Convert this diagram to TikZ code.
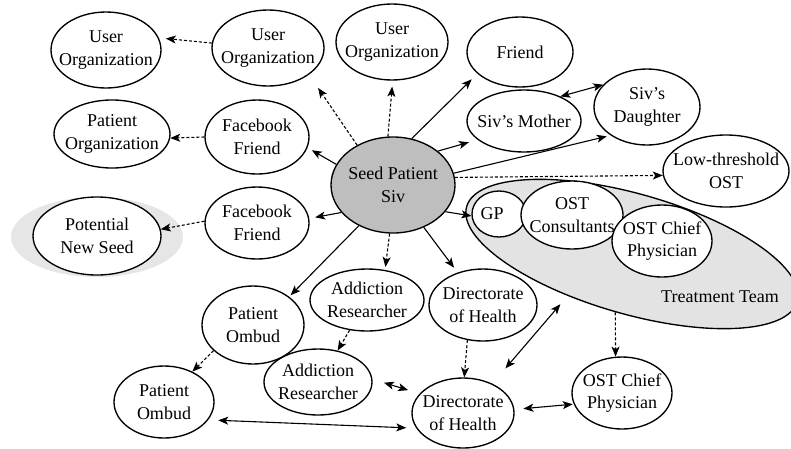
\documentclass[tikz,border=0pt]{standalone}
\usepackage{fontspec}
\setmainfont{Liberation Serif}
\usetikzlibrary{shapes.geometric,arrows.meta}
\definecolor{seedgrey}{HTML}{BEBEBE}
\definecolor{teamgrey}{HTML}{E3E3E3}
\definecolor{halogrey}{HTML}{E6E6E6}
\tikzset{
  ent/.style={ellipse, draw=black, line width=1.35pt, fill=white, inner sep=0pt},
  txt/.style={align=center, inner sep=0pt, font=\fontsize{18}{22.5}\selectfont},
  tip/.tip={Stealth[length=10pt,width=8pt,inset=2.5pt]},
  sarr/.style={line width=1.1pt, -tip},
  darr/.style={line width=1.1pt, dash pattern=on 3pt off 2pt, -tip},
  dbl/.style={line width=1.1pt, tip-tip},
}
\begin{document}
\begin{tikzpicture}[x=1pt,y=-1pt]
\useasboundingbox (0,0) rectangle (791,448);
% backgrounds
\node[ellipse, fill=halogrey, minimum width=172pt, minimum height=80pt, inner sep=0pt] (pnshalo) at (97,237) {};
\node[ellipse, draw=black, line width=1.35pt, fill=teamgrey, minimum width=344pt, minimum height=120pt, rotate=-16, inner sep=0pt] (tt) at (632,254) {};
\node[txt] (ttl) at (720,297) {Treatment Team};
% nodes
\node[ent, minimum width=110pt, minimum height=76pt, label={[txt]center:User\\Organization}] (uo1) at (106,50) {};
\node[ent, minimum width=112pt, minimum height=76pt, label={[txt]center:User\\Organization}] (uo2) at (268,48) {};
\node[ent, minimum width=112pt, minimum height=76pt, label={[txt]center:User\\Organization}] (uo3) at (392,42) {};
\node[ent, minimum width=106pt, minimum height=70pt, label={[txt]center:Friend}] (friend) at (520,52) {};
\node[ent, minimum width=114pt, minimum height=62pt, label={[txt]center:Siv’s Mother}] (mother) at (524,121) {};
\node[ent, minimum width=106pt, minimum height=76pt, label={[txt]center:Siv’s\\Daughter}] (daughter) at (647,107) {};
\node[ent, minimum width=126pt, minimum height=72pt, label={[txt]center:Low-threshold\\OST}] (low) at (726,171) {};
\node[ent, fill=seedgrey, minimum width=124pt, minimum height=96pt, label={[txt]center:Seed Patient\\Siv}] (seed) at (393,185) {};
\node[ent, minimum width=104pt, minimum height=74pt, label={[txt]center:Facebook\\Friend}] (fb1) at (257,137) {};
\node[ent, minimum width=116pt, minimum height=68pt, label={[txt]center:Patient\\Organization}] (porg) at (112,134) {};
\node[ent, minimum width=104pt, minimum height=72pt, label={[txt]center:Facebook\\Friend}] (fb2) at (257,223) {};
\node[ent, minimum width=128pt, minimum height=78pt, label={[txt]center:Potential\\New Seed}] (pns) at (97,236) {};
\node[ent, minimum width=54pt, minimum height=46pt, label={[txt, xshift=-7pt]center:GP}] (gp) at (499,214) {};
\node[ent, minimum width=102pt, minimum height=68pt, label={[txt]center:OST\\Consultants}] (cons) at (572,215) {};
\node[ent, minimum width=100pt, minimum height=72pt, label={[txt]center:OST Chief\\Physician}] (chief1) at (662,241) {};
\node[ent, minimum width=114pt, minimum height=62pt, label={[txt]center:Addiction\\Researcher}] (ar1) at (367,300) {};
\node[ent, minimum width=108pt, minimum height=72pt, label={[txt]center:Directorate\\of Health}] (dir1) at (483,305) {};
\node[ent, minimum width=102pt, minimum height=78pt, label={[txt]center:Patient\\Ombud}] (po1) at (253,325) {};
\node[ent, minimum width=108pt, minimum height=66pt, label={[txt]center:Addiction\\Researcher}] (ar2) at (318,382) {};
\node[ent, minimum width=100pt, minimum height=72pt, label={[txt]center:Patient\\Ombud}] (po2) at (164,402) {};
\node[ent, minimum width=102pt, minimum height=70pt, label={[txt]center:Directorate\\of Health}] (dir2) at (463,413) {};
\node[ent, minimum width=100pt, minimum height=72pt, label={[txt]center:OST Chief\\Physician}] (chief2) at (622,393) {};
% connectors
\draw[darr, shorten >=7pt] (uo2.175) -- (uo1.13);
\draw[darr, shorten >=16pt] (seed.132) -- (uo2.-33);
\draw[darr, shorten >=6pt] (seed.96) -- (uo3.-89);
\draw[sarr, shorten >=8pt] (seed.68) -- (friend.207);
\draw[sarr, shorten >=9pt] (seed.37) -- (mother.202);
\draw[sarr, shorten >=4pt] (seed.11) -- (daughter.218);
\draw[dbl] (mother.34) -- (daughter.153);
\draw[darr] (seed.7) -- (low.184);
\draw[sarr, shorten >=5pt] (seed.160) -- (fb1.-12);
\draw[darr] (fb1.180) -- (porg.-4);
\draw[sarr, shorten >=6pt] (seed.208) -- (fb2.5);
\draw[darr] (fb2.178) -- (pns.6);
\draw[sarr] (seed.-27) -- (gp.184);
\draw[sarr, shorten >=2pt] (seed.230) -- (po1.38);
\draw[darr, shorten >=3pt] (seed.-94) -- (ar1.59);
\draw[sarr, shorten >=6pt] (seed.-54) -- (dir1.128);
\draw[darr] (po1.213) -- (po2.47);
\draw[darr] (ar1.240) -- (ar2.58);
\draw[darr] (dir1.246) -- (dir2.88);
\draw[darr] (tt.south) -- (chief2.100);
\draw[dbl, shorten <=20pt, shorten >=11pt] (dir2.45) -- (tt.229);
\draw[dbl, shorten <=12pt, shorten >=12pt] (ar2.3) -- (dir2.156);
\draw[dbl, shorten <=10pt, shorten >=10pt] (po2.-22) -- (dir2.198);
\draw[dbl, shorten <=9pt, shorten >=1pt] (dir2.4) -- (chief2.193);
\end{tikzpicture}
\end{document}
